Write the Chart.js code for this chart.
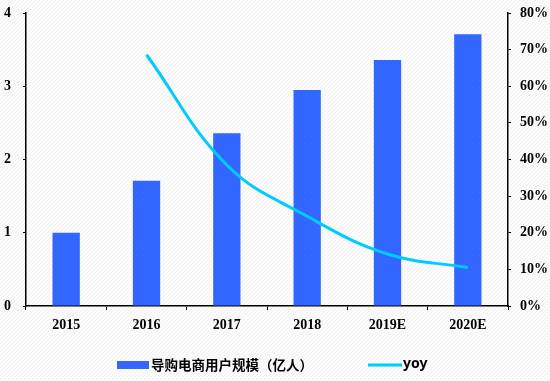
<!DOCTYPE html>
<html>
<head>
<meta charset="utf-8">
<script src="https://cdn.jsdelivr.net/npm/chart.js@4"></script>
<style>
  body { margin: 0; background: #fff; }
</style>
</head>
<body>
<canvas id="chart" width="550" height="381"></canvas>
<script>
const years = ['2015', '2016', '2017', '2018', '2019E', '2020E'];
const users = [1.0, 1.71, 2.36, 2.95, 3.36, 3.71];
const yoy = [null, 0.686, 0.385, 0.245, 0.142, 0.105];
const barLabel = '导购电商用户规模（亿人）';
const lineLabel = 'yoy';

const tickFont = { family: '"Liberation Serif", "Times New Roman", serif', size: 14, weight: 'bold' };

function makeBgPattern() {
    let c = document.createElement('canvas');
    c.width = 4; c.height = 4;
    let g = c.getContext('2d');
    g.fillStyle = '#fcfcfc';
    g.fillRect(0, 0, 4, 4);
    g.fillStyle = '#f1f1f1';
    for (let i = 0; i < 4; i++) g.fillRect(3 - i, i, 1, 1);
    return document.getElementById('chart').getContext('2d').createPattern(c, 'repeat');
}

function makeBarPattern() {
    let c = document.createElement('canvas');
    c.width = 7; c.height = 7;
    let g = c.getContext('2d');
    g.fillStyle = '#3366ff';
    g.fillRect(0, 0, 7, 7);
    g.fillStyle = '#1f7bff';
    g.fillRect(3, 3, 1, 1);
    return document.getElementById('chart').getContext('2d').createPattern(c, 'repeat');
}

const bgPlugin = {
    id: 'bg',
    beforeDraw(chart) {
        let ctx = chart.ctx;
        ctx.save();
        ctx.fillStyle = makeBgPattern();
        ctx.fillRect(0, 0, chart.width, chart.height);
        ctx.restore();
    }
};

// legend drawn by hand so the spacing follows the original
const legendPlugin = {
    id: 'customLegend',
    afterDraw(chart) {
        let ctx = chart.ctx;
        let y = 365;
        ctx.save();
        ctx.fillStyle = '#3366ff';
        ctx.fillRect(117, y - 4, 32, 8);
        ctx.strokeStyle = '#00ccff';
        ctx.lineWidth = 3;
        ctx.beginPath();
        ctx.moveTo(368, y);
        ctx.lineTo(402, y);
        ctx.stroke();
        ctx.fillStyle = '#000';
        ctx.textBaseline = 'middle';
        ctx.textAlign = 'left';
        ctx.font = 'bold 13.5px "Noto Sans CJK SC", sans-serif';
        ctx.fillText(barLabel, 151, y);
        ctx.font = 'bold 14px "Noto Sans", sans-serif';
        ctx.fillText(lineLabel, 403, y - 1);
        ctx.restore();
    }
};

function fixVertical(width) {
    return function (s) {
        s.width = width;
        s.paddingTop = 0;
        s.paddingBottom = 0;
    };
}

const ctx = document.getElementById('chart').getContext('2d');
new Chart(ctx, {
    data: {
        labels: years,
        datasets: [
            {
                type: 'line',
                label: lineLabel,
                data: yoy,
                yAxisID: 'y1',
                borderColor: '#00ccff',
                borderWidth: 3,
                pointRadius: 0,
                tension: 0.4,
                fill: false
            },
            {
                type: 'bar',
                label: barLabel,
                data: users,
                yAxisID: 'y',
                backgroundColor: makeBarPattern(),
                categoryPercentage: 1,
                barPercentage: 0.34
            }
        ]
    },
    options: {
        responsive: false,
        animation: false,
        layout: { padding: { top: 13, left: 0, right: 0, bottom: 0 } },
        plugins: {
            legend: { display: false },
            tooltip: { enabled: false }
        },
        scales: {
            x: {
                offset: true,
                grid: { offset: true, drawOnChartArea: false, tickLength: 4, color: '#000' },
                border: { color: '#000', width: 1.5 },
                ticks: { font: tickFont, color: '#000', padding: 7 },
                afterFit(s) { s.height = 75; }
            },
            y: {
                position: 'left',
                min: 0, max: 4,
                ticks: { stepSize: 1, font: tickFont, color: '#000', padding: 12 },
                grid: { drawOnChartArea: false, tickLength: 3, color: '#000' },
                border: { color: '#000', width: 1.5 },
                afterFit: fixVertical(26)
            },
            y1: {
                position: 'right',
                min: 0, max: 0.8,
                ticks: {
                    stepSize: 0.1, font: tickFont, color: '#000', padding: 9,
                    callback: v => Math.round(v * 100) + '%'
                },
                grid: { drawOnChartArea: false, tickLength: 3, color: '#000' },
                border: { color: '#000', width: 1.5 },
                afterFit: fixVertical(42)
            }
        }
    },
    plugins: [bgPlugin, legendPlugin]
});
</script>
</body>
</html>
